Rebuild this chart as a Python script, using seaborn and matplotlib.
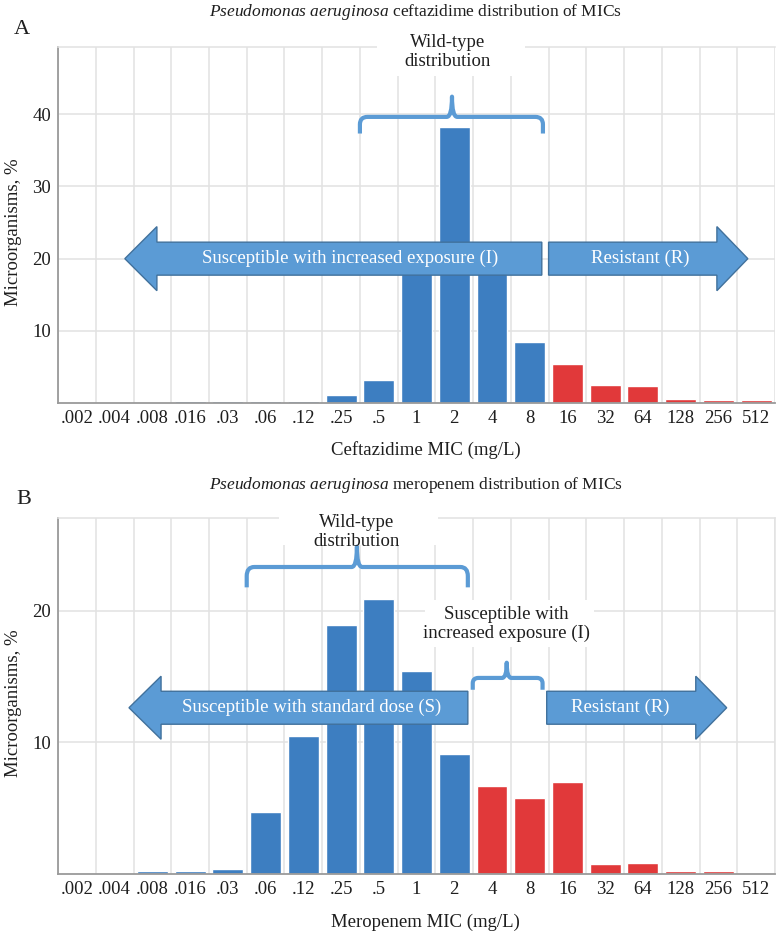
import numpy as np
import pandas as pd
import matplotlib
matplotlib.use("Agg")
import matplotlib.pyplot as plt
import seaborn as sns
from matplotlib.patches import FancyArrow, Rectangle, PathPatch
from matplotlib.path import Path

# ---------------- data ----------------
mic_labels = [".002", ".004", ".008", ".016", ".03", ".06", ".12", ".25", ".5",
              "1", "2", "4", "8", "16", "32", "64", "128", "256", "512"]

ceftazidime_pct = [0, 0, 0, 0.35, 0.35, 0.35, 0.35, 1.15, 3.2,
                   20.0, 38.2, 19.5, 8.5, 5.4, 2.5, 2.4, 0.6, 0.45, 0.4]
ceftazidime_group = ["blue"] * 13 + ["red"] * 6

meropenem_pct = [0, 0, 0.2, 0.2, 0.35, 4.7, 10.5, 18.9, 20.9,
                 15.4, 9.1, 6.65, 5.76, 6.95, 0.71, 0.81, 0.2, 0.2, 0]
meropenem_group = ["blue"] * 11 + ["red"] * 8

BLUE = "#3d7ec1"
RED = "#e1393a"
ARROW_FILL = "#5b9bd5"
ARROW_EDGE = "#41719c"
GRID = "#e2e2e2"
SPINE = "#9a9a9a"
TXT = "#1e1e1e"

sns.set_theme(style="white")
plt.rcParams["font.family"] = ["Liberation Serif", "DejaVu Serif"]
plt.rcParams["mathtext.fontset"] = "custom"
plt.rcParams["mathtext.it"] = "Liberation Serif:italic"
plt.rcParams["mathtext.rm"] = "Liberation Serif"

fig = plt.figure(figsize=(7.8, 9.31), dpi=100)
fig.patch.set_facecolor("white")

axA = fig.add_axes([0.0744, 0.5668, 0.9192, 0.3830])
axB = fig.add_axes([0.0744, 0.0617, 0.9192, 0.3816])


def draw_panel(ax, values, groups, ytop, yticks, xlabel):
    df = pd.DataFrame({"mic": mic_labels, "pct": values, "grp": groups})
    sns.barplot(data=df, x="mic", y="pct", hue="grp", order=mic_labels,
                palette={"blue": BLUE, "red": RED}, dodge=False, width=0.82,
                saturation=1, legend=False, ax=ax, zorder=2)
    ax.set_xlim(-0.5, len(mic_labels) - 0.5)
    ax.set_ylim(0, ytop)
    ax.set_yticks(yticks)
    ax.set_xticks(np.arange(-0.5, len(mic_labels), 1), minor=True)
    ax.grid(which="minor", axis="x", color=GRID, lw=1.1)
    ax.grid(which="major", axis="y", color=GRID, lw=1.1)
    ax.set_axisbelow(True)
    ax.tick_params(which="both", length=0)
    ax.tick_params(axis="x", pad=5, labelsize=13.5, labelcolor=TXT)
    ax.tick_params(axis="y", pad=5, labelsize=13.5, labelcolor=TXT)
    for s in ["left", "bottom"]:
        ax.spines[s].set_color(SPINE)
        ax.spines[s].set_linewidth(1.3)
    ax.spines["top"].set_color(GRID)
    ax.spines["top"].set_linewidth(1.1)
    ax.spines["right"].set_visible(False)
    ax.set_xlabel(xlabel, fontsize=13.5, color=TXT)
    ax.set_ylabel("Microorganisms, %", fontsize=13.5, color=TXT)
    ax.xaxis.label.set_va("center")
    ax.yaxis.label.set_va("center")
    ax.yaxis.set_label_coords(-0.062, 0.48)


def brace(ax, x0, x1, xm, y_h, y_end, y_tip, r=0.2, rt=0.14):
    y_c = y_h - (y_h - y_end) * 0.45
    verts = [(x0, y_end), (x0, y_c), (x0, y_h), (x0 + r, y_h),
             (xm - rt, y_h), (xm, y_h), (xm, y_tip), (xm, y_h), (xm + rt, y_h),
             (x1 - r, y_h), (x1, y_h), (x1, y_c), (x1, y_end)]
    codes = [Path.MOVETO, Path.LINETO, Path.CURVE3, Path.CURVE3,
             Path.LINETO, Path.CURVE3, Path.CURVE3, Path.CURVE3, Path.CURVE3,
             Path.LINETO, Path.CURVE3, Path.CURVE3, Path.LINETO]
    ax.add_patch(PathPatch(Path(verts, codes), fill=False, ec=ARROW_FILL,
                           lw=3, capstyle="butt", joinstyle="round", zorder=4,
                           clip_on=False))


def arrow(ax, x_start, x_tip, y, w, hw, hl, label, tx):
    ax.add_patch(FancyArrow(x_start, y, x_tip - x_start, 0, width=w,
                            head_width=hw, head_length=hl,
                            length_includes_head=True, fc=ARROW_FILL,
                            ec=ARROW_EDGE, lw=1.0, zorder=5))
    ax.text(tx, y, label, color="white", fontsize=13.5, ha="center",
            va="center", zorder=6)


def white_box(ax, x0, x1, y0, y1):
    ax.add_patch(Rectangle((x0, y0), x1 - x0, y1 - y0, fc="white", ec="none",
                           zorder=2.7, clip_on=False))


# ---------------- panel A ----------------
draw_panel(axA, ceftazidime_pct, ceftazidime_group, 49.3, [10, 20, 30, 40],
           "Ceftazidime MIC (mg/L)")
axA.xaxis.set_label_coords(0.513, -0.131)
white_box(axA, 7.95, 11.87, 45.2, 51.6)
axA.text(9.83, 48.6, "Wild-type\ndistribution", ha="center", va="center",
         fontsize=13.5, color=TXT, linespacing=1.15, zorder=6)
brace(axA, 7.5, 12.35, 9.94, 39.6, 37.3, 42.4)
arrow(axA, 12.32, 1.27, 20.0, 4.56, 8.86, 0.85,
      "Susceptible with increased exposure (I)", 7.23)
arrow(axA, 12.5, 17.78, 20.0, 4.56, 8.86, 0.82, "Resistant (R)", 14.92)

# ---------------- panel B ----------------
draw_panel(axB, meropenem_pct, meropenem_group, 27.06, [10, 20],
           "Meropenem MIC (mg/L)")
axB.xaxis.set_label_coords(0.513, -0.136)
axB.spines["right"].set_visible(True)
axB.spines["right"].set_color(GRID)
axB.spines["right"].set_linewidth(1.1)
white_box(axB, 5.35, 9.57, 25.0, 28.4)
axB.text(7.42, 26.05, "Wild-type\ndistribution", ha="center", va="center",
         fontsize=13.5, color=TXT, linespacing=1.15, zorder=6)
brace(axB, 4.5, 10.36, 7.42, 23.35, 21.8, 24.9)
white_box(axB, 9.22, 13.7, 17.25, 20.8)
axB.text(11.39, 19.0, "Susceptible with\nincreased exposure (I)", ha="center",
         va="center", fontsize=13.5, color=TXT, linespacing=1.15, zorder=6)
brace(axB, 10.49, 12.34, 11.39, 14.9, 14.0, 16.06, r=0.15, rt=0.12)
arrow(axB, 10.36, 1.38, 12.63, 2.51, 4.8, 0.85,
      "Susceptible with standard dose (S)", 6.23)
arrow(axB, 12.45, 17.22, 12.63, 2.51, 4.8, 0.82, "Resistant (R)", 14.4)

# ---------------- titles and panel letters ----------------
fig.text(0.533, 0.987,
         r"$\it{Pseudomonas\ aeruginosa}$ ceftazidime distribution of MICs",
         ha="center", va="center", fontsize=12.5, color=TXT)
fig.text(0.533, 0.479,
         r"$\it{Pseudomonas\ aeruginosa}$ meropenem distribution of MICs",
         ha="center", va="center", fontsize=12.5, color=TXT)
fig.text(22 / 780, 1 - 29 / 931, "A", ha="center", va="center", fontsize=16,
         color=TXT)
fig.text(24 / 780, 1 - 500 / 931, "B", ha="center", va="center", fontsize=16,
         color=TXT)

fig.savefig("out.png", dpi=100, facecolor="white")
